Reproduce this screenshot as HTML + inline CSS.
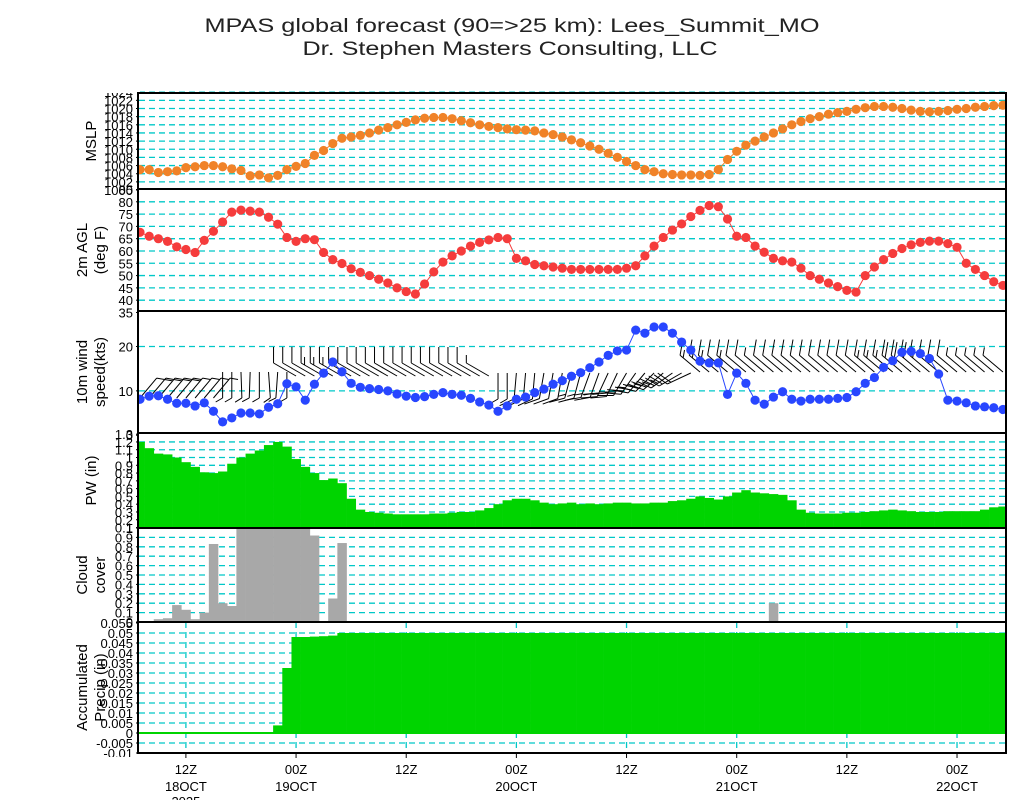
<!DOCTYPE html>
<html><head><meta charset="utf-8">
<style>
html,body{margin:0;padding:0;background:#fff;}
svg{display:block;font-family:"Liberation Sans",sans-serif;}
</style></head>
<body>
<svg id="chart" width="1024" height="800" viewBox="0 0 1024 800" xmlns="http://www.w3.org/2000/svg">
<text x="512" y="32" text-anchor="middle" font-size="19" fill="#222" textLength="615" lengthAdjust="spacingAndGlyphs">MPAS global forecast (90=&gt;25 km): Lees_Summit_MO</text>
<text x="510" y="55" text-anchor="middle" font-size="19" fill="#222" textLength="415" lengthAdjust="spacingAndGlyphs">Dr. Stephen Masters Consulting, LLC</text>
</svg>
<script>
const mslp=[1005,1005,1004.3,1004.5,1004.7,1005.5,1005.7,1006,1006,1005.7,1005.2,1004.8,1003.5,1003.7,1003,1003.6,1005,1005.8,1006.5,1008.5,1009.7,1011.4,1012.7,1013,1013.4,
1014,1014.7,1015.3,1016,1016.6,1017.2,1017.6,
1017.8,1017.8,1017.5,1017,1016.5,1016,1015.6,1015.3,1015,
1014.8,1014.7,1014.5,1014,1013.6,1013,1012.3,1011.6,1010.8,1010,
1009,1008,1007,1006,1005,1004.5,1004,1003.8,1003.7,1003.7,
1003.6,1003.8,1005,1007.5,
1009.5,1011,1012,1013,1014,1015,1016,1016.8,1017.5,1018,1018.6,1019,1019.3,
1019.8,1020.2,1020.5,1020.5,1020.3,1020,1019.6,1019.3,1019.2,1019.3,1019.5,1019.8,1020,1020.3,1020.5,1020.7,1020.8];
const tempF=[67.6,66,65,63.9,61.7,60.6,59.4,64.3,68,71.8,75.8,76.6,76.2,75.8,73.7,70.9,65.5,63.9,65,64.6,59.4,56.5,54.9,52.8,51.3,
50,48.5,47,45,43.5,42.5,46.6,51.5,55.5,58,60,62,63.5,64.5,65.5,65,
57,56,54.5,54,53.5,53,52.5,52.5,52.5,52.5,52.5,52.5,53,
54,58,62,65.5,68.5,71,74,76.5,78.5,78,73,66,65.5,62,59.5,57,56,55.5,53,50,48.5,47,45.5,44,43.3,50,53.5,56.5,59,61,62.5,63.5,64,64,63,61.5,55,52.5,50,47.5,46];
const windKts=[8.1,8.8,8.9,8.1,7.2,7.2,6.6,7.3,5.4,3,3.9,5,5,4.8,6.3,7.1,11.6,10.9,7.9,11.5,14,16.5,14.3,11.7,10.8,
10.5,10.3,10,9.3,8.8,8.5,8.7,9.2,9.6,9.2,9,8.3,
7.5,6.8,5.4,6.6,8.1,8.6,9.6,10.4,11.5,12.3,13.3,14.1,15.2,16.5,18,19,19.2,23.7,23,24.4,24.4,23,21,19.2,16.7,16.3,16.3,9.2,14,
11.7,7.9,7,8.6,9.8,8.1,7.7,8.1,8.1,8.1,8.3,8.5,9.8,11.7,13,15.3,16.8,18.7,18.9,18.4,17.3,13.8,7.9,7.7,7.3,6.6,6.4,6.2,5.8];
const windDir=[40,40,40,40,40,40,40,40,40,
180,180,178,182,180,176,184,180,
300,300,300,300,300,300,300,300,300,300,300,300,300,300,300,300,300,300,300,300,300,300,
180,180,185,185,185,190,190,190,195,195,200,200,205,205,210,215,220,225,230,235,240,245,
310,310,310,310,310,310,310,310,310,310,310,310,310,310,310,310,310,310,310,310,310,310,310,310,310,310,310,310,310,310,310,310,310,310];
const pw=[1.2,1.12,1.05,1.04,1.0,0.94,0.88,0.81,0.8,0.82,0.92,1.0,1.05,1.09,1.16,1.2,1.14,0.98,0.88,0.8,0.71,0.73,0.67,0.47,0.33,
0.3,0.29,0.28,0.27,0.27,0.27,0.27,0.28,0.28,0.29,0.3,0.3,0.32,0.35,0.4,0.45,0.47,0.47,0.45,0.42,0.4,0.41,0.42,0.4,0.41,0.4,0.41,0.42,0.42,0.41,
0.41,0.42,0.42,0.44,0.45,0.47,0.5,0.48,0.46,0.5,0.55,0.58,0.55,0.54,0.53,0.52,0.45,0.33,0.29,0.28,0.28,0.28,0.29,0.29,0.3,0.31,0.32,0.33,0.32,0.31,
0.3,0.3,0.3,0.31,0.31,0.31,0.31,0.33,0.36,0.37];
const cloud=[0,0,0.03,0.04,0.18,0.13,0.03,0.1,0.83,0.2,
0.17,1,1,1,1,1,1,1,1,0.92,
0,0.25,0.84,
0,0,0,0,0,0,0,0,0,0,
0,0,0,0,0,0,0,0,0,0,
0,0,0,0,0,0,0,0,0,0,
0,0,0,0,0,0,0,0,0,0,
0,0,0,0,0,0,
0.2,
0,0,0,0,0,0,0,0,0,0,
0,0,0,0,0,0,0,0,0,0,
0,0,0,0,0];
const precip=[0,0,0,0,0,0,0,0,0,0,0,0,0,0,0,0.0038,0.0325,0.048,0.048,0.0482,0.0484,0.0487,
0.05,0.05,0.05,0.05,0.05,0.05,0.05,0.05,0.05,0.05,0.05,0.05,0.05,0.05,0.05,0.05,0.05,0.05,0.05,0.05,0.05,0.05,0.05,0.05,0.05,0.05,0.05,0.05,0.05,0.05,
0.05,0.05,0.05,0.05,0.05,0.05,0.05,0.05,0.05,0.05,0.05,0.05,0.05,0.05,0.05,0.05,0.05,0.05,0.05,0.05,0.05,0.05,0.05,0.05,0.05,0.05,0.05,0.05,0.05,0.05,
0.05,0.05,0.05,0.05,0.05,0.05,0.05,0.05,0.05,0.05,0.05,0.05,0.05];
const timeTickIdx=[5,17,29,41,53,65,77,89];
const timeTickHour=["12Z","00Z","12Z","00Z","12Z","00Z","12Z","00Z"];
const timeTickDate=["18OCT","19OCT","","20OCT","","21OCT","","22OCT"];
const mslpTicks=[1000,1002,1004,1006,1008,1010,1012,1014,1016,1018,1020,1022,1024];
const tempTicks=[35,40,45,50,55,60,65,70,75,80,85];
const windTicks=[0,10,20];
const pwTicks=[0.1,0.2,0.3,0.4,0.5,0.6,0.7,0.8,0.9,1,1.1,1.2,1.3];
const cloudTicks=[0,0.1,0.2,0.3,0.4,0.5,0.6,0.7,0.8,0.9,1];
const precipTicks=[-0.01,-0.005,0,0.005,0.01,0.015,0.02,0.025,0.03,0.035,0.04,0.045,0.05,0.055];

const svg=document.getElementById('chart');
const NS='http://www.w3.org/2000/svg';
const L=139,R=1006,X0=140,DX=9.18;
function X(i){return X0+DX*i;}
function mk(tag,attrs,parent){const e=document.createElementNS(NS,tag);for(const k in attrs)e.setAttribute(k,attrs[k]);(parent||svg).appendChild(e);return e;}
const defs=mk('defs',{});
const cp=mk('clipPath',{id:'plotclip'},defs);
mk('rect',{x:L,y:93,width:R-L,height:661},cp);

const panels=[
 {name:'mslp',top:93,bot:189,min:1000.25,max:1023.8,ticks:mslpTicks,grid:[1002,1004,1006,1008,1010,1012,1014,1016,1018,1020,1022,1024],title:['MSLP']},
 {name:'temp',top:189,bot:311,min:35.6,max:85.2,ticks:tempTicks,grid:[40,45,50,55,60,65,70,75,80],title:['2m  AGL','(deg  F)']},
 {name:'wind',top:311,bot:433,min:0.5,max:28,ticks:windTicks,grid:[10,20],title:['10m  wind','speed(kts)']},
 {name:'pw',top:433,bot:528,min:0.094,max:1.315,ticks:pwTicks,grid:[0.2,0.3,0.4,0.5,0.6,0.7,0.8,0.9,1,1.1,1.2],title:['PW  (in)']},
 {name:'cloud',top:528,bot:622,min:0,max:1,ticks:cloudTicks,grid:[0.1,0.2,0.3,0.4,0.5,0.6,0.7,0.8,0.9],title:['Cloud','cover']},
 {name:'precip',top:622,bot:753,min:-0.01,max:0.0555,ticks:precipTicks,grid:[-0.005,0,0.005,0.01,0.015,0.02,0.025,0.03,0.035,0.04,0.045,0.05],title:['Accumulated','Precip  (in)']}
];
panels.forEach(p=>{p.y=v=>p.bot-(v-p.min)/(p.max-p.min)*(p.bot-p.top);});
const P={};panels.forEach(p=>P[p.name]=p);
const CY='#00c8c8';

panels.forEach(p=>{
  const g=mk('g',{});
  
  
  p.grid.forEach(v=>{
    const ln=mk('line',{x1:L,x2:R,y1:p.y(v),y2:p.y(v),stroke:CY,'stroke-width':1.3,'stroke-dasharray':'6,4'},g);
    
    
  });
  p.ticks.forEach(v=>{
    const t=mk('text',{x:133,y:p.y(v)+5,'text-anchor':'end','font-size':13},g);
    t.textContent=String(v);
    
    
    const tk=mk('line',{x1:L-3,x2:L,y1:p.y(v),y2:p.y(v),stroke:'#000','stroke-width':1},g);
    
    
  });
  const cy=(p.top+p.bot)/2, n=p.title.length;
  p.title.forEach((s,k)=>{
    const tx=92+(k-(n-1)/2)*18;
    const t=mk('text',{x:tx,y:cy,'text-anchor':'middle','font-size':15,transform:'rotate(-90 '+tx+' '+cy+')','dominant-baseline':'middle'},g);
    t.textContent=s;
    
    
  });
});
const mtop=mk('rect',{x:60,y:60,width:80,height:33,fill:'#fff'});


const mbot=mk('rect',{x:60,y:757,width:80,height:5,fill:'#fff'});



timeTickIdx.forEach(i=>{
  const ln=mk('line',{x1:X(i),x2:X(i),y1:P.precip.top,y2:P.precip.bot,stroke:CY,'stroke-width':1.3,'stroke-dasharray':'6,4'});
  
  
});

const marks=mk('g',{'clip-path':'url(#plotclip)'});



function bars(arr,p,color,name){
  arr.forEach((v,i)=>{
    const y0=p.y(Math.max(p.min,0)), y1=p.y(v);
    const top=Math.min(y0,y1), h=Math.max(Math.abs(y1-y0),0);
    if(h<0.3)return;
    const r=mk('rect',{x:X(i)-DX/2,y:Math.max(top,p.top),width:DX+0.3,height:Math.min(top+h,p.bot)-Math.max(top,p.top),fill:color},marks);
    
    
  });
}
bars(pw,P.pw,'#00d400','pw-bar');
bars(cloud,P.cloud,'#a8a8a8','cloud-bar');
bars(precip,P.precip,'#00d400','precip-bar');
const zl=mk('line',{x1:L,x2:R,y1:P.precip.y(0),y2:P.precip.y(0),stroke:'#00d400','stroke-width':2},marks);



function barbBaseY(i){ if(i<9)return 398; if(i<17)return 372; if(i<39)return 376; if(i<61)return 373; return 372; }
windDir.forEach((d,i)=>{
  const a=d*Math.PI/180, sx=Math.sin(a), sy=-Math.cos(a);
  const bx=X(i), by=barbBaseY(i), Ls=26;
  const tx=bx+sx*Ls, ty=by+sy*Ls;
  const fr=Math.PI/3, fx=sx*Math.cos(fr)-sy*Math.sin(fr), fy=sx*Math.sin(fr)+sy*Math.cos(fr);
  let path='M'+bx+' '+by+'L'+tx+' '+ty;
  let n5=Math.round(windKts[i]/5), k=0;
  while(n5>0){
    const px=tx-sx*k*4, py=ty-sy*k*4, fl=n5>=2?16:8;
    path+='M'+px+' '+py+'l'+fx*fl+' '+fy*fl;
    n5-=2;k++;
  }
  const b=mk('path',{d:path,stroke:'#000','stroke-width':1,fill:'none'},marks);
  
  
});

function dots(arr,p,color,name){
  const pts=arr.map((v,i)=>X(i)+','+p.y(v)).join(' ');
  const pl=mk('polyline',{points:pts,fill:'none',stroke:color,'stroke-width':1},marks);
  
  
  arr.forEach((v,i)=>{
    const c=mk('circle',{cx:X(i),cy:p.y(v),r:4.6,fill:color},marks);
    
    
  });
}
dots(mslp,P.mslp,'#f08228','mslp');
dots(tempF,P.temp,'#f53c3c','temp');
dots(windKts,P.wind,'#2846ff','wind-speed');

panels.forEach(p=>{
  const r=mk('rect',{x:L-1,y:p.top,width:R-L+1,height:p.bot-p.top,fill:'none',stroke:'#000','stroke-width':2});
  
  
});

timeTickIdx.forEach((i,k)=>{
  const tk=mk('line',{x1:X(i),x2:X(i),y1:753,y2:758,stroke:'#000','stroke-width':1});
  
  
  const t=mk('text',{x:X(i),y:774,'text-anchor':'middle','font-size':13});
  t.textContent=timeTickHour[k];
  
  
  if(timeTickDate[k]){
    const t2=mk('text',{x:X(i),y:791,'text-anchor':'middle','font-size':13});
    t2.textContent=timeTickDate[k];
    
    
  }
});
const yr=mk('text',{x:X(5),y:806,'text-anchor':'middle','font-size':13});
yr.textContent='2025';


</script>
</body></html>
